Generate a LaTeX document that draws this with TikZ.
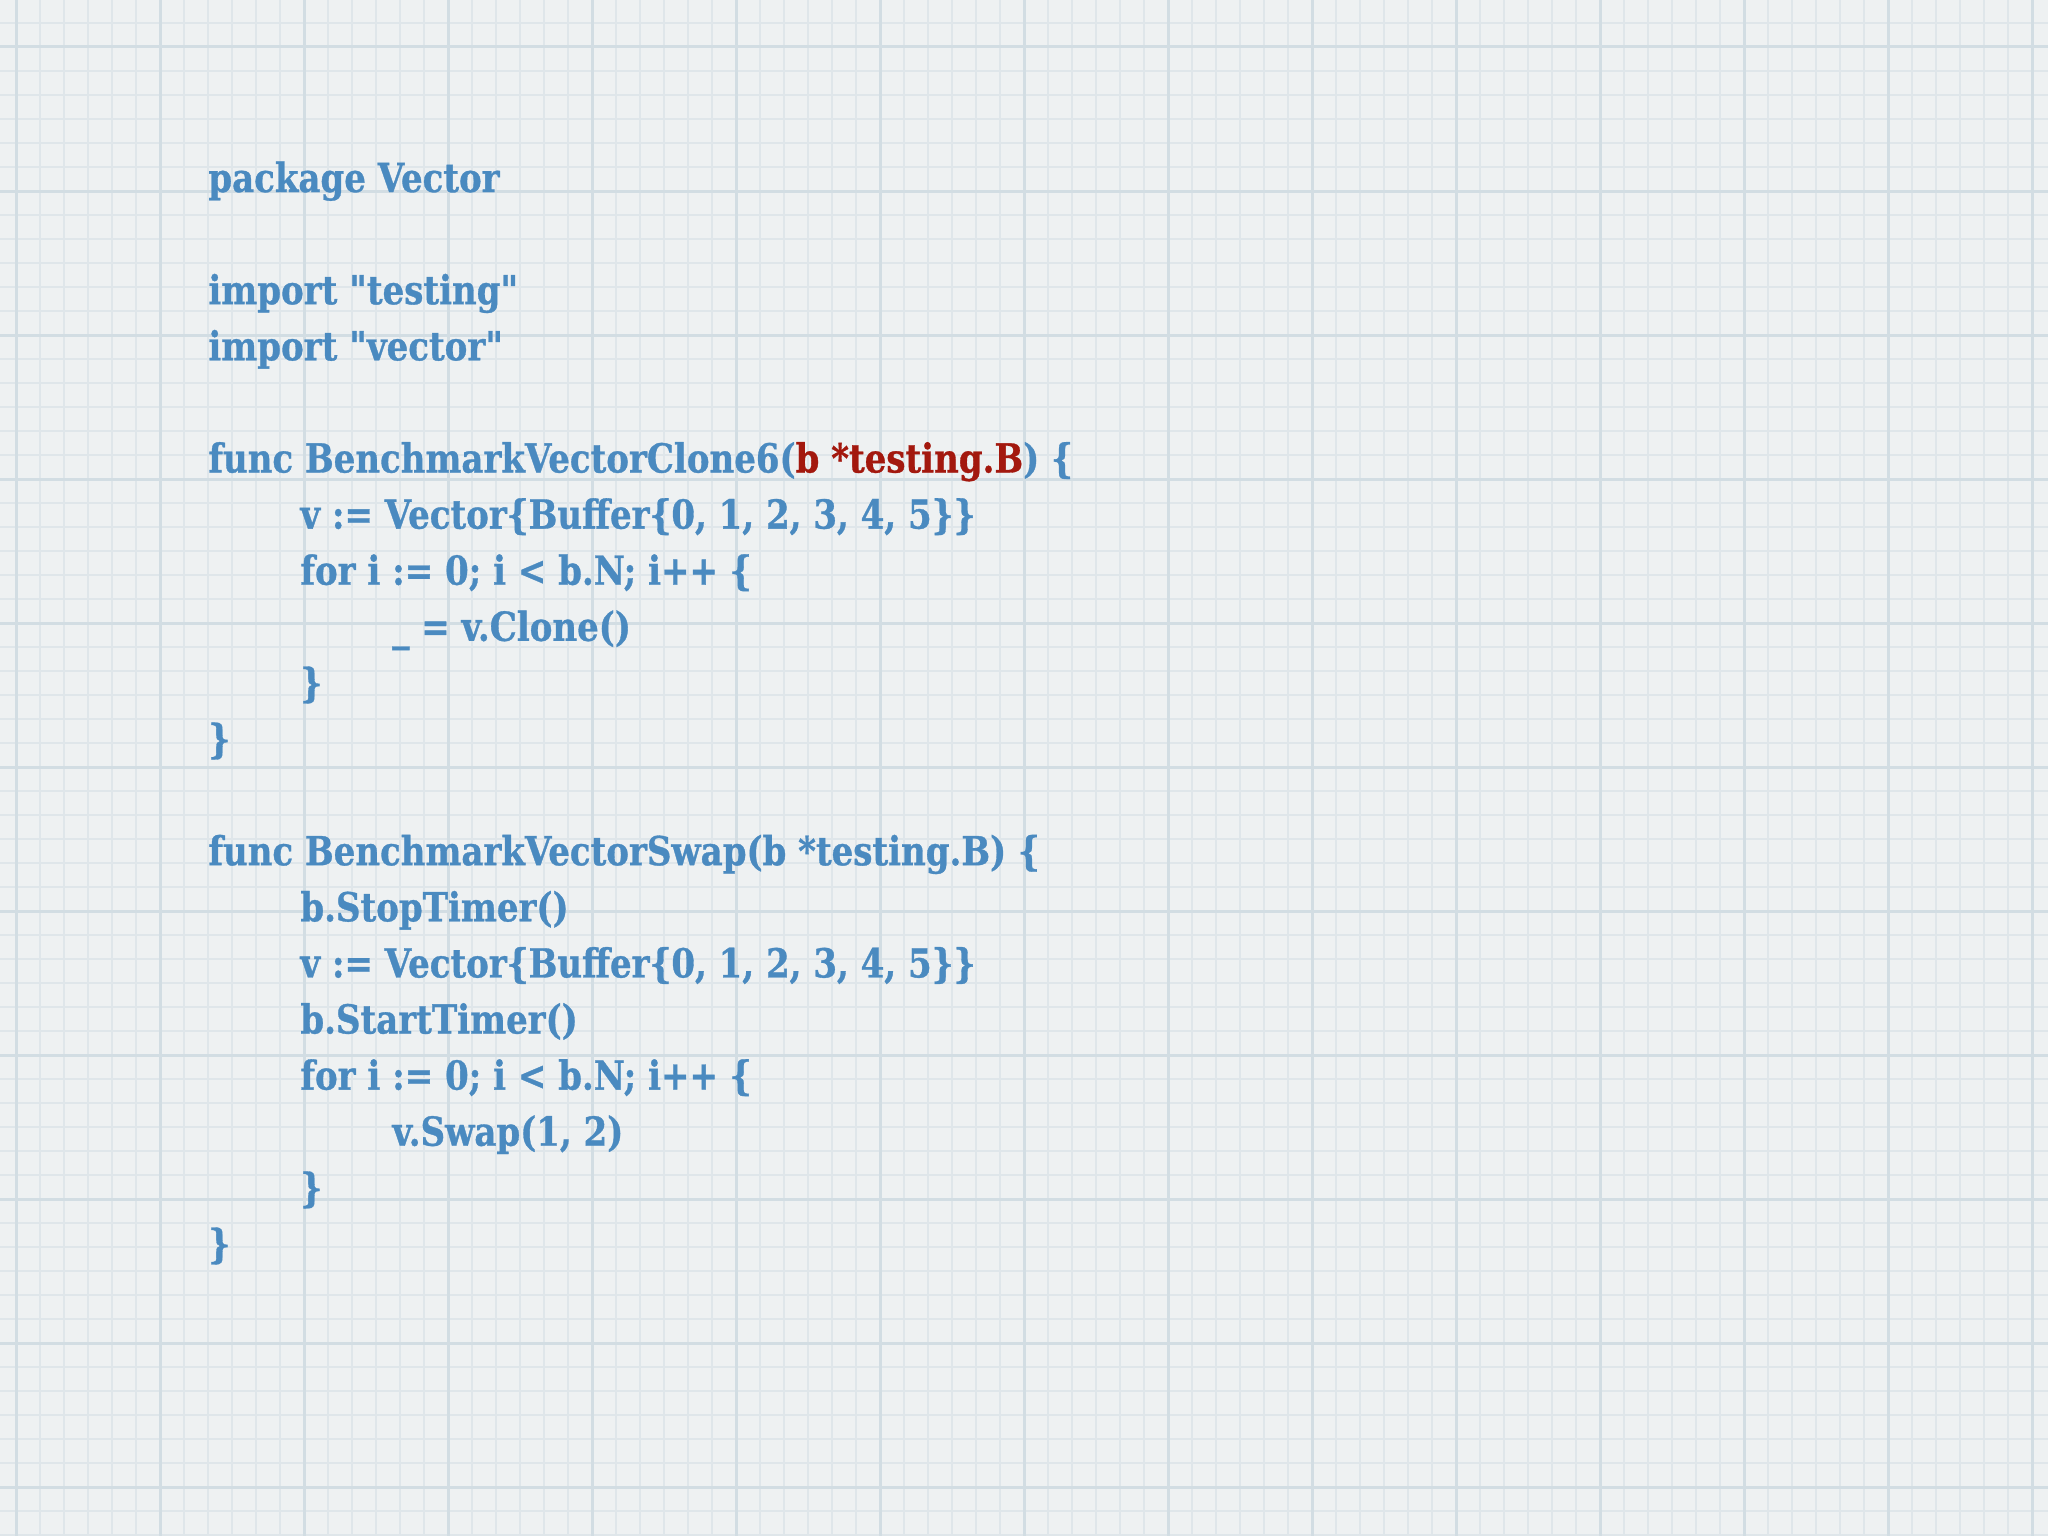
\documentclass[tikz,border=0pt]{standalone}
\usepackage{fontspec}
\setmainfont{DejaVu Serif}[FakeStretch=0.85, Ligatures=TeXOff, BoldFeatures={FakeBold=0.8}]
\definecolor{paper}{HTML}{EEF1F2}
\definecolor{gridminor}{HTML}{DFE6EA}
\definecolor{gridmajor}{HTML}{D2DDE3}
\definecolor{codeblue}{HTML}{4A8AC0}
\definecolor{codered}{HTML}{A3180E}
\tikzset{
  codeline/.style={anchor=base west, inner sep=0pt, text=codeblue, font=\fontsize{20pt}{24pt}\selectfont\bfseries},
  minorline/.style={draw=gridminor, line width=1.1pt},
  majorline/.style={draw=gridmajor, line width=1.5pt}
}
\begin{document}
\begin{tikzpicture}[x=0.5pt,y=-0.5pt]
\useasboundingbox (0,0) rectangle (2048,1536);
\fill[paper] (0,0) rectangle (2048,1536);
% minor grid
\foreach \i in {0,...,85} { \draw[minorline] ({16+24*\i},0) -- ({16+24*\i},1536); }
\foreach \j in {0,...,63} { \draw[minorline] (0,{23+24*\j}) -- (2048,{23+24*\j}); }
% major grid
\foreach \i in {0,...,14} { \draw[majorline] ({16+144*\i},0) -- ({16+144*\i},1536); }
\foreach \j in {0,...,10} { \draw[majorline] (0,{47+144*\j}) -- (2048,{47+144*\j}); }
% code
\def\bl#1{192+56.1*#1}
\node[codeline] (l0)  at (208,{\bl{0}})  {package Vector};
\node[codeline] (l2)  at (208,{\bl{2}})  {import "testing"};
\node[codeline] (l3)  at (208,{\bl{3}})  {import "vector"};
\node[codeline] (l5)  at (208,{\bl{5}})  {func BenchmarkVectorClone6(\textcolor{codered}{b *testing.B}) \{};
\node[codeline] (l6)  at (300,{\bl{6}})  {v := Vector\{Buffer\{0, 1, 2, 3, 4, 5\}\}};
\node[codeline] (l7)  at (300,{\bl{7}})  {for i := 0; i < b.N; i++ \{};
\node[codeline] (l8)  at (392,{\bl{8}})  {\_ = v.Clone()};
\node[codeline] (l9)  at (300,{\bl{9}})  {\}};
\node[codeline] (l10) at (208,{\bl{10}}) {\}};
\node[codeline] (l12) at (208,{\bl{12}}) {func BenchmarkVectorSwap(b *testing.B) \{};
\node[codeline] (l13) at (300,{\bl{13}}) {b.StopTimer()};
\node[codeline] (l14) at (300,{\bl{14}}) {v := Vector\{Buffer\{0, 1, 2, 3, 4, 5\}\}};
\node[codeline] (l15) at (300,{\bl{15}}) {b.StartTimer()};
\node[codeline] (l16) at (300,{\bl{16}}) {for i := 0; i < b.N; i++ \{};
\node[codeline] (l17) at (392,{\bl{17}}) {v.Swap(1, 2)};
\node[codeline] (l18) at (300,{\bl{18}}) {\}};
\node[codeline] (l19) at (208,{\bl{19}}) {\}};
\end{tikzpicture}
\end{document}
